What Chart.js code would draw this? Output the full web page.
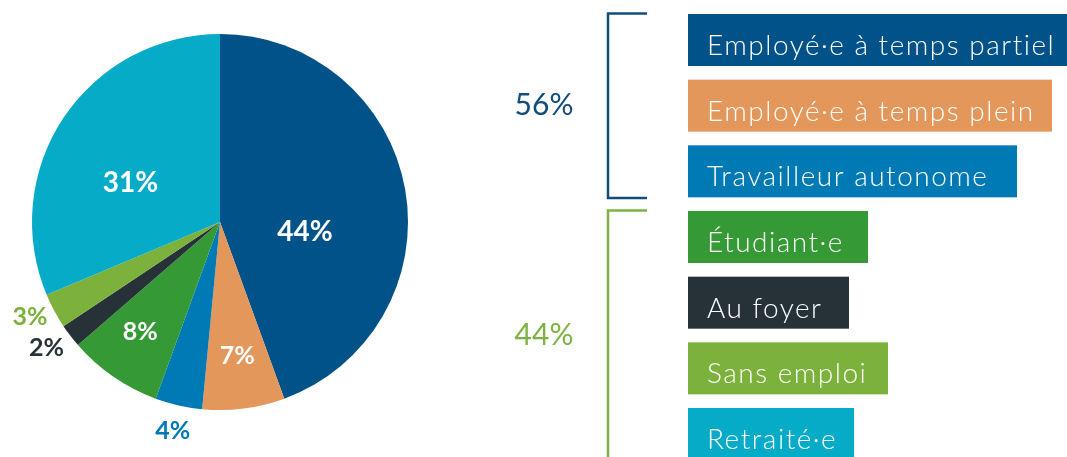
<!DOCTYPE html>
<html lang="fr">
<head>
<meta charset="utf-8">
<script src="https://cdn.jsdelivr.net/npm/chart.js@4/dist/chart.umd.min.js"></script>
<style>
  html, body { margin: 0; padding: 0; background: #ffffff; }
  #wrap { width: 1067px; height: 457px; position: relative; }
</style>
</head>
<body>
<div id="wrap"><canvas id="situationChart"></canvas></div>
<script>
// donnees
const categories = ['Employé·e à temps partiel', 'Employé·e à temps plein', 'Travailleur autonome', 'Étudiant·e', 'Au foyer', 'Sans emploi', 'Retraité·e'];
const parts = [44, 7, 4, 8, 2, 3, 31];
const couleurs = ['#005288', '#e3975b', '#007ab4', '#359a35', '#263238', '#7cb23c', '#06abc7'];
const groupes = ['56%', '44%'];
const groupeTaille = [3, 4];
const groupeCouleurs = ['#134d7c', '#7cb342'];

// mise en page (pas des donnees)
const FONT = 'Lato, "Open Sans", "DejaVu Sans", sans-serif';
const legendeX = 688, legendeY = 14, legendePas = 65.67, legendeH = 52;
const legendeW = [379, 364, 329, 180, 161, 200, 166];
// position des etiquettes: facteur du rayon, decalage d'angle (degres), taille
const etiquettes = [
  { f: 0.455, d: 16.7, s: 28 },
  { f: 0.72, d: 0, s: 25 },
  { f: 1.14, d: 0, s: 25 },
  { f: 0.72, d: 1.5, s: 25 },
  { f: 1.14, d: 1.3, s: 25 },
  { f: 1.13, d: 1.6, s: 25 },
  { f: 0.52, d: -10, s: 28 }
];

//plugin pour les pourcentages sur les parts
const pourcentages = {
  id: 'pourcentages',
  afterDatasetsDraw(chart) {
    const ctx = chart.ctx;
    const arcs = chart.getDatasetMeta(0).data;
    ctx.save();
    ctx.textAlign = 'center';
    ctx.textBaseline = 'middle';
    arcs.forEach((arc, i) => {
      const p = arc.getProps(['x', 'y', 'startAngle', 'endAngle', 'outerRadius'], true);
      const e = etiquettes[i];
      const a = (p.startAngle + p.endAngle) / 2 + e.d * Math.PI / 180;
      const r = p.outerRadius * e.f;
      ctx.font = `bold ${e.s}px ${FONT}`;
      ctx.fillStyle = e.f > 1 ? couleurs[i] : '#ffffff';
      ctx.fillText(parts[i] + '%', p.x + Math.cos(a) * r, p.y + Math.sin(a) * r);
    });
    ctx.restore();
  }
};

//plugin pour la legende a droite avec les accolades
const legendeDroite = {
  id: 'legendeDroite',
  afterDraw(chart) {
    const ctx = chart.ctx;
    ctx.save();
    categories.forEach((c, i) => {
      const y = legendeY + i * legendePas;
      ctx.fillStyle = couleurs[i];
      ctx.fillRect(legendeX, y, legendeW[i], legendeH);
      ctx.fillStyle = '#ffffff';
      ctx.font = `300 28px ${FONT}`;
      ctx.letterSpacing = '1.5px'; // la police d'origine est plus large
      ctx.textAlign = 'left';
      ctx.textBaseline = 'alphabetic';
      ctx.fillText(c, legendeX + 19, y + 41);
    });
    ctx.letterSpacing = '0px';

    let debut = 0;
    groupes.forEach((g, k) => {
      const y0 = legendeY + debut * legendePas - 0.5;
      const y1 = k === 0 ? legendeY + (debut + groupeTaille[k]) * legendePas - 13 : 462;
      ctx.strokeStyle = groupeCouleurs[k];
      ctx.lineWidth = 2.5;
      ctx.beginPath();
      ctx.moveTo(647, y0);
      ctx.lineTo(608, y0);
      ctx.lineTo(608, y1);
      if (k === 0) ctx.lineTo(647, y1);
      ctx.stroke();

      ctx.fillStyle = groupeCouleurs[k];
      ctx.font = `30px ${FONT}`;
      ctx.textAlign = 'center';
      ctx.textBaseline = 'middle';
      ctx.fillText(g, 544, (y0 + (k === 0 ? y1 : 460)) / 2);
      debut += groupeTaille[k];
    });
    ctx.restore();
  }
};

function renderChart() {
  const ctx = document.getElementById('situationChart').getContext('2d');
  new Chart(ctx, {
    type: 'pie',
    data: {
      labels: categories,
      datasets: [{
        data: parts,
        backgroundColor: couleurs,
        borderWidth: 0
      }]
    },
    options: {
      responsive: true,
      maintainAspectRatio: false,
      animation: false,
      layout: { padding: { left: 32, top: 34, right: 659, bottom: 47 } },
      plugins: {
        legend: { display: false },
        tooltip: { enabled: false }
      }
    },
    plugins: [pourcentages, legendeDroite]
  });
}
renderChart();
</script>
</body>
</html>
